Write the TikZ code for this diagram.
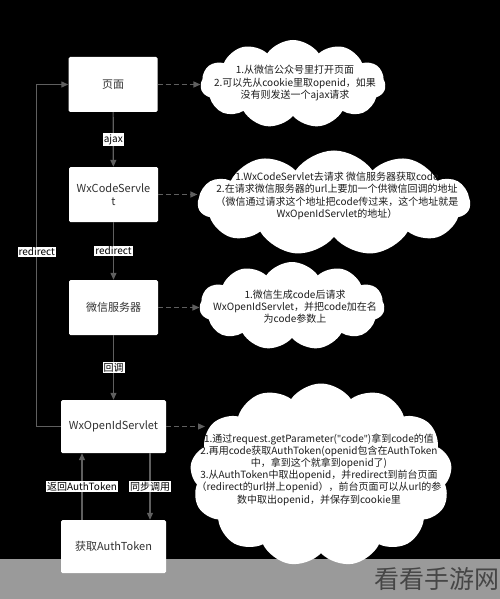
\documentclass[tikz,border=0pt]{standalone}
\usepackage{fontspec}
\setmainfont{Noto Sans CJK SC}
\newfontfamily\qfont{Noto Sans}
\usetikzlibrary{arrows.meta,shapes.symbols}
\definecolor{linegray}{RGB}{95,95,95}
\definecolor{boxtext}{RGB}{50,50,50}
\definecolor{band}{RGB}{154,154,154}
\definecolor{wm}{RGB}{70,70,70}
\definecolor{notetext}{RGB}{30,30,30}
\begin{document}
\begin{tikzpicture}[x=1pt,y=-1pt,
 box/.style={fill=white, rounded corners=1.5pt, minimum width=89pt, minimum height=55pt, text=boxtext, font=\fontsize{11}{13}\selectfont, align=center, inner sep=0pt},
 wbox/.style={box, minimum width=105pt, minimum height=53pt},
 link/.style={draw=linegray, line width=1.2pt, -{Triangle[length=7pt,width=6pt]}},
 dlink/.style={link, dash pattern=on 5pt off 3pt},
 lbl/.style={fill=white, text=black, font=\fontsize{10}{11}\selectfont, inner sep=1pt},
 cloudshape/.style={cloud, cloud puffs=11, cloud puff arc=110, fill=white, inner sep=0pt},
 note/.style={text=notetext, font=\fontsize{10}{12.2}\selectfont, align=center}
]
\fill[black] (0,0) rectangle (500,599);
\fill[band] (0,559) rectangle (500,599);
\useasboundingbox (0,0) rectangle (500,599);

% boxes
\node[box] (page) at (113,84.5) {页面};
\node[box] (code) at (113.5,194.5) {WxCodeServle\\t};
\node[box] (wx) at (113.5,307.5) {微信服务器};
\node[wbox] (oid) at (113.5,426.5) {WxOpenIdServlet};
\node[wbox] (auth) at (113.5,546.5) {获取AuthToken};

\coordinate (ux) at (82,0);
\coordinate (dx) at (150,0);

% main connectors
\draw[link] (page) -- node[lbl]{ajax} (code);
\draw[link] (code) -- node[lbl]{redirect} (wx);
\draw[link] (wx) -- node[lbl]{回调} (oid);
\draw[link] (oid.west) -- ++(-24,0) |- node[lbl, pos=0.255]{redirect} (page.west);
\draw[link] (auth.north -| ux) -- node[lbl]{返回AuthToken} (oid.south -| ux);
\draw[link] (oid.south -| dx) -- node[lbl]{同步调用} (auth.north -| dx);

% clouds
\node[cloudshape, aspect=2.1, minimum width=185pt, minimum height=88pt] (c1) at (293,84) {};
\node[cloudshape, aspect=2.6, minimum width=272pt, minimum height=105pt] (c2) at (334,203) {};
\node[cloudshape, aspect=2.1, minimum width=185pt, minimum height=88pt] (c3) at (292,306) {};
\node[cloudshape, aspect=1.45, cloud puffs=13, minimum width=262pt, minimum height=183pt] (c4) at (321,475) {};
\coordinate (c4in) at (205,426.5);

\node[note] (t1) at (295,83) {1.从微信公众号里打开页面\\2.可以先从cookie里取openid，如果\\没有则发送一个ajax请求};
\node[note] (t2) at (337,196) {1.WxCodeServlet去请求 微信服务器获取code\\2.在请求微信服务器的url上要加一个供微信回调的地址\\（微信通过请求这个地址把code传过来，这个地址就是\\WxOpenIdServlet的地址）};
\node[note] (t3) at (295,307) {1.微信生成code后请求\\WxOpenIdServlet，并把code加在名\\为code参数上};
\node[note] (t4) at (319,469.5) {1.通过request.getParameter({\qfont"}code{\qfont"})拿到code的值\\2.再用code获取AuthToken(openid包含在AuthToken\\中，拿到这个就拿到openid了)\\3.从AuthToken中取出openid，并redirect到前台页面\\（redirect的url拼上openid），前台页面可以从url的参\\数中取出openid，并保存到cookie里};

% dashed connectors
\draw[dlink] (page.east) -- (page.east -| c1.west);
\draw[dlink] (code.east) -- (code.east -| c2.west);
\draw[dlink] (wx.east) -- (wx.east -| c3.west);
\draw[dlink] (oid.east) -- (c4in);

% watermark
\node[anchor=east, text=wm, font=\fontsize{25}{25}\selectfont, inner sep=0pt] (wmk) at (500,579) {看看手游网};
\end{tikzpicture}
\end{document}
